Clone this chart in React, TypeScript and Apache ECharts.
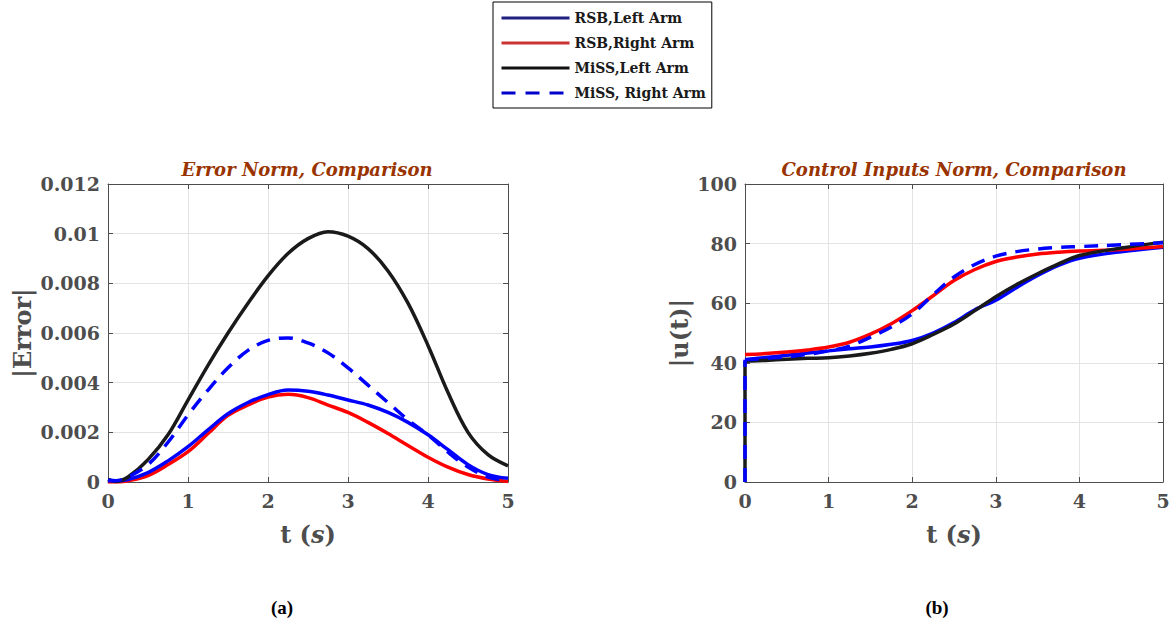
import React, { useEffect, useRef } from "react";
import * as echarts from "echarts";

// ---- Data: (a) Error norm ----
const tErr = [0, 0.1, 0.25, 0.5, 0.75, 1, 1.25, 1.5, 1.75, 2, 2.25, 2.5, 2.75, 3, 3.25, 3.5, 3.75, 4, 4.25, 4.5, 4.75, 5];
const errRsbLeft = [0.0001, 0.00005, 0.0001, 0.00038, 0.00085, 0.00142, 0.0021, 0.00275, 0.0032, 0.00352, 0.0037, 0.00365, 0.0035, 0.0033, 0.0031, 0.0028, 0.0024, 0.0019, 0.0013, 0.0007, 0.0003, 0.00015];
const errRsbRight = [0, 0, 0.00005, 0.00026, 0.0007, 0.00122, 0.00195, 0.00268, 0.0031, 0.00342, 0.00353, 0.0034, 0.0031, 0.0028, 0.0024, 0.00195, 0.00147, 0.001, 0.0006, 0.0003, 0.00012, 0.00002];
const errMissLeft = [0.0001, 0.00002, 0.0002, 0.0009, 0.0019, 0.0033, 0.0047, 0.006, 0.0072, 0.0083, 0.0092, 0.0098, 0.01008, 0.0099, 0.0094, 0.0085, 0.0072, 0.0055, 0.0036, 0.002, 0.0011, 0.00065];
const errMissRight = [0.00005, 0.00005, 0.0002, 0.0007, 0.0016, 0.0027, 0.0037, 0.0046, 0.0053, 0.0057, 0.0058, 0.0056, 0.0052, 0.0046, 0.0039, 0.0032, 0.0025, 0.0019, 0.0012, 0.0006, 0.0002, 0.00005];

// ---- Data: (b) Control inputs norm ----
const tU = [0, 0.25, 0.5, 0.75, 1, 1.25, 1.5, 1.75, 2, 2.25, 2.5, 2.75, 3, 3.25, 3.5, 3.75, 4, 4.5, 5];
const uRsbLeft = [41, 41.8, 42.5, 43.3, 44, 44.7, 45.3, 46.2, 47.5, 50, 53.5, 57.8, 61, 65.3, 69.3, 72.7, 75.1, 77.3, 78.8];
const uRsbRight = [42.8, 43.1, 43.6, 44.3, 45.3, 46.9, 49.6, 53.1, 57.5, 62.5, 67.6, 71.3, 74, 75.5, 76.5, 77.1, 77.5, 78, 79];
const uMissLeft = [40.5, 40.8, 41.2, 41.5, 41.7, 42.3, 43.2, 44.5, 46.4, 49.5, 53, 57.5, 62.2, 66.3, 69.9, 73.2, 76, 78.5, 80.5];
const uMissRight = [41, 41.5, 42, 42.8, 44, 45.6, 48.6, 52, 56.4, 62.8, 68.8, 73, 75.8, 77.3, 78.2, 78.7, 79, 79.6, 80.3];
// initial jump at t = 0 (from 0 to the first value)
const uMissLeftJump = [0, 40.5];
const uMissRightJump = [0, 41];

const seriesNames = ["RSB,Left Arm", "RSB,Right Arm", "MiSS,Left Arm", "MiSS, Right Arm"];

const FONT = "DejaVu Serif";
const AXIS_COLOR = "#4d4d4d";
const BLUE = "#0000ff";
const RED = "#ff0000";
const BLACK = "#1a1a1a";
const DASH = [14, 9];

function pairs(t: number[], v: number[]) {
  return t.map((x, i) => [x, v[i]]);
}

export default function App() {
  const ref = useRef<HTMLDivElement>(null);

  useEffect(() => {
    if (!ref.current) return;
    const chart = echarts.init(ref.current, null, { renderer: "svg" });

    const labelStyle = {
      fontFamily: FONT,
      fontWeight: "bold",
      fontSize: 19,
      color: AXIS_COLOR,
    };
    const nameStyle = {
      fontFamily: FONT,
      fontWeight: "bold",
      fontSize: 24,
      color: AXIS_COLOR,
    };
    const baseAxis = {
      axisLine: { show: true, onZero: false, lineStyle: { color: AXIS_COLOR, width: 1 } },
      axisTick: { show: true, inside: true, length: 5, lineStyle: { color: AXIS_COLOR } },
    };
    const xMain = (gridIndex: number) => ({
      ...baseAxis,
      type: "value",
      gridIndex,
      position: "bottom",
      min: 0,
      max: 5,
      interval: 1,
      axisLabel: { ...labelStyle, margin: 9 },
      splitLine: { show: true, lineStyle: { color: "#e3e3e3", width: 1 } },
      name: "{a|t (}{b|s}{a|)}",
      nameLocation: "middle",
      nameGap: 40,
      nameTextStyle: {
        ...nameStyle,
        rich: {
          a: { ...nameStyle },
          b: { ...nameStyle, fontStyle: "italic" },
        },
      },
    });
    const xTop = (gridIndex: number) => ({
      ...baseAxis,
      type: "value",
      gridIndex,
      position: "top",
      min: 0,
      max: 5,
      interval: 1,
      axisLabel: { show: false },
      splitLine: { show: false },
    });
    const yMain = (gridIndex: number, max: number, interval: number, name: string, nameGap: number, fmt: (v: number) => string) => ({
      ...baseAxis,
      type: "value",
      gridIndex,
      position: "left",
      min: 0,
      max,
      interval,
      axisLabel: { ...labelStyle, margin: 8, formatter: fmt },
      splitLine: { show: true, lineStyle: { color: "#e3e3e3", width: 1 } },
      name,
      nameLocation: "middle",
      nameGap,
      nameTextStyle: nameStyle,
    });
    const yRight = (gridIndex: number, max: number, interval: number) => ({
      ...baseAxis,
      type: "value",
      gridIndex,
      position: "right",
      min: 0,
      max,
      interval,
      axisLabel: { show: false },
      splitLine: { show: false },
    });

    const line = (name: string | undefined, data: number[][], xi: number, yi: number, color: string, dashed: boolean, z: number, smooth: number | boolean = 0.35) => ({
      type: "line",
      name,
      data,
      xAxisIndex: xi,
      yAxisIndex: yi,
      showSymbol: false,
      symbol: "none",
      smooth,
      z,
      lineStyle: { color, width: 3.5, type: dashed ? DASH : "solid" },
      itemStyle: { color },
      emphasis: { disabled: true },
    });

    const titleFont = {
      fontFamily: FONT,
      fontWeight: "bold",
      fontStyle: "italic",
      fontSize: 18,
      fill: "#993300",
    };

    const hidden = { opacity: 0, borderWidth: 0 };

    const option = {
      animation: false,
      backgroundColor: "#ffffff",
      grid: [
        { left: 108, top: 184, width: 400, height: 298, containLabel: false },
        { left: 745, top: 184, width: 418, height: 298, containLabel: false },
      ],
      xAxis: [xMain(0), xTop(0), xMain(1), xTop(1)],
      yAxis: [
        yMain(0, 0.012, 0.002, "|Error|", 74, (v: number) => (v === 0 ? "0" : String(+v.toFixed(3)))),
        yRight(0, 0.012, 0.002),
        yMain(1, 100, 20, "|u(t)|", 54, (v: number) => String(v)),
        yRight(1, 100, 20),
      ],
      legend: {
        orient: "vertical",
        left: 493,
        top: 2,
        padding: [9, 6, 8, 7],
        itemWidth: 68,
        itemHeight: 14,
        itemGap: 11,
        borderColor: "#000000",
        borderWidth: 1,
        backgroundColor: "#ffffff",
        itemStyle: hidden,
        textStyle: { fontFamily: FONT, fontWeight: "bold", fontSize: 14, color: "#1a1a1a" },
        data: [
          { name: seriesNames[0], lineStyle: { color: "#1f1f80", width: 3 }, itemStyle: hidden },
          { name: seriesNames[1], lineStyle: { color: "#cc3333", width: 3 }, itemStyle: hidden },
          { name: seriesNames[2], lineStyle: { color: "#111111", width: 3 }, itemStyle: hidden },
          { name: seriesNames[3], lineStyle: { color: "#0000cc", width: 3, type: [14, 10] }, itemStyle: hidden },
        ],
      },
      graphic: [
        { type: "text", x: 307, y: 169, style: { ...titleFont, text: "Error Norm, Comparison", align: "center", verticalAlign: "middle" } },
        { type: "text", x: 954, y: 169, style: { ...titleFont, text: "Control Inputs Norm, Comparison", align: "center", verticalAlign: "middle" } },
        { type: "text", x: 282, y: 607, style: { text: "(a)", fontFamily: "Liberation Serif", fontWeight: "bold", fontSize: 19, fill: "#000", align: "center", verticalAlign: "middle" } },
        { type: "text", x: 937, y: 607, style: { text: "(b)", fontFamily: "Liberation Serif", fontWeight: "bold", fontSize: 19, fill: "#000", align: "center", verticalAlign: "middle" } },
      ],
      series: [
        line(seriesNames[1], pairs(tErr, errRsbRight), 0, 0, RED, false, 2),
        line(seriesNames[0], pairs(tErr, errRsbLeft), 0, 0, BLUE, false, 3),
        line(seriesNames[2], pairs(tErr, errMissLeft), 0, 0, BLACK, false, 4),
        line(seriesNames[3], pairs(tErr, errMissRight), 0, 0, BLUE, true, 5),
        line(seriesNames[0], pairs(tU, uRsbLeft), 2, 2, BLUE, false, 2),
        line(seriesNames[1], pairs(tU, uRsbRight), 2, 2, RED, false, 3),
        line(seriesNames[2], pairs(tU, uMissLeft), 2, 2, BLACK, false, 4),
        line(seriesNames[3], pairs(tU, uMissRight), 2, 2, BLUE, true, 5),
        line(undefined, [[0, uMissLeftJump[0]], [0, uMissLeftJump[1]]], 2, 2, BLACK, false, 4, false),
        line(undefined, [[0, uMissRightJump[0]], [0, uMissRightJump[1]]], 2, 2, BLUE, true, 5, false),
      ],
    };

    chart.setOption(option as any);
    return () => chart.dispose();
  }, []);

  return (
    <div
      ref={ref}
      style={{ position: "fixed", left: 0, top: 0, width: 1175, height: 624, background: "#fff" }}
    />
  );
}
